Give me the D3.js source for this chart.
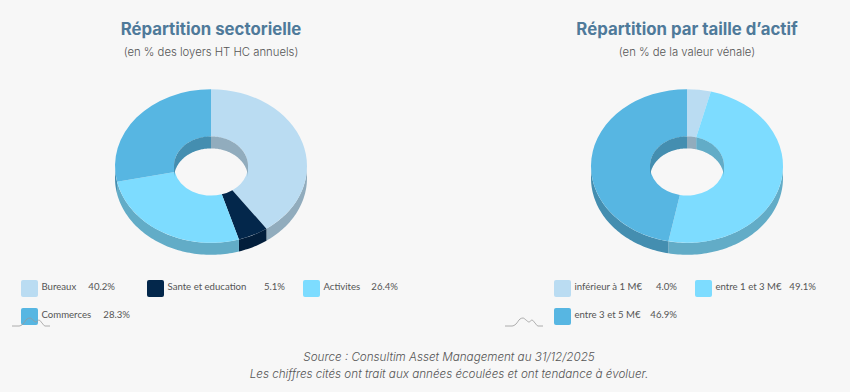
<!DOCTYPE html>
<html>
<head>
<meta charset="utf-8">
<script src="https://cdn.jsdelivr.net/npm/d3@7"></script>
<style>
  html, body { margin: 0; padding: 0; background: #f7f7f7; }
  svg { display: block; }
  text { font-family: Inter, "Open Sans", sans-serif; }
  .title { font-size: 16.8px; font-weight: 700; fill: #4f7a9a; text-anchor: middle; }
  .subtitle { font-size: 11.3px; font-weight: 300; fill: #555; text-anchor: middle; }
  .legend-text { font-family: Lato, sans-serif; font-size: 9.6px; font-weight: 400; fill: #555; dominant-baseline: middle; }
  .footer { font-size: 11.65px; font-weight: 300; font-style: italic; fill: #555; text-anchor: middle; }
</style>
</head>
<body>
<svg id="chart" width="850" height="392"></svg>
<script>
// data
const sectorLabels = ["Bureaux", "Sante et education", "Activites", "Commerces"]
const sectorValues = [40.2, 5.1, 26.4, 28.3]
const sectorColors = ["#badcf2", "#03274b", "#7ddcff", "#57b6e2"]

const sizeLabels = ["inférieur à 1 M€", "entre 1 et 3 M€", "entre 3 et 5 M€"]
const sizeValues = [4.0, 49.1, 46.9]
const sizeColors = ["#badcf2", "#7ddcff", "#57b6e2"]

const footerLines = [
  "Source : Consultim Asset Management au 31/12/2025",
  "Les chiffres cités ont trait aux années écoulées et ont tendance à évoluer."
]

// layout
const rx = 96, squash = 0.8, holeR = 37, depth = 12, cy = 166
const sectorLegend = [
  {x: 21, y: 280, valueEnd: 115},
  {x: 147, y: 280, valueEnd: 285},
  {x: 303, y: 280, valueEnd: 398},
  {x: 21, y: 308, valueEnd: 130}
]
const sizeLegend = [
  {x: 554, y: 280, valueEnd: 677},
  {x: 695, y: 280, valueEnd: 816},
  {x: 554, y: 308, valueEnd: 677}
]
// small grey squiggle sitting under the legend, relative to its left end
const squiggle = [[0, 8], [7, 8], [11, 6], [15, 1], [18, 0], [21, 2], [24, 4], [27, 2], [30, 5], [33, 8], [38, 8]]

const svg = d3.select("#chart")

function ringPoint(r, a, dy) {
  return [r * Math.sin(a), -r * squash * Math.cos(a) + dy]
}

// wall strip between the top edge and the same edge moved down, between two angles
function wallPath(r, a0, a1) {
  const n = Math.max(2, Math.ceil((a1 - a0) * 40))
  const angles = d3.range(n + 1).map(i => a0 + (a1 - a0) * i / n)
  const top = angles.map(a => ringPoint(r, a, 0))
  const bottom = angles.slice().reverse().map(a => ringPoint(r, a, depth))
  return d3.line()(top.concat(bottom)) + "Z"
}

function wallColor(c) {
  const col = d3.rgb(c)
  return d3.rgb(col.r * 0.78, col.g * 0.78, col.b * 0.78).formatHex()
}

function drawDonut(cx, values, colors) {
  const arcs = d3.pie().sort(null)(values)
  const g = svg.append("g").attr("transform", "translate(" + cx + "," + cy + ")")

  // outer wall, only the front half shows
  arcs.forEach((d, i) => {
    const a0 = Math.max(d.startAngle, Math.PI / 2)
    const a1 = Math.min(d.endAngle, 3 * Math.PI / 2)
    if (a1 > a0) g.append("path").attr("d", wallPath(rx, a0, a1)).attr("fill", wallColor(colors[i]))
  })

  // top face
  const arc = d3.arc().innerRadius(holeR).outerRadius(rx)
  g.append("g").attr("transform", "scale(1," + squash + ")")
    .selectAll("path")
    .data(arcs)
    .enter()
    .append("path")
    .attr("d", arc)
    .attr("fill", (d, i) => colors[i])

  // inner wall of the hole, only the back half shows
  arcs.forEach((d, i) => {
    [[0, Math.PI / 2], [3 * Math.PI / 2, 2 * Math.PI]].forEach(range => {
      const a0 = Math.max(d.startAngle, range[0])
      const a1 = Math.min(d.endAngle, range[1])
      if (a1 > a0) g.append("path").attr("d", wallPath(holeR, a0, a1)).attr("fill", wallColor(colors[i]))
    })
  })
}

function drawLegend(labels, values, colors, layout) {
  labels.forEach((label, i) => {
    const pos = layout[i]
    svg.append("rect")
      .attr("x", pos.x).attr("y", pos.y)
      .attr("width", 17).attr("height", 17).attr("rx", 2)
      .attr("fill", colors[i])
    svg.append("text").attr("class", "legend-text")
      .attr("x", pos.x + 20.5).attr("y", pos.y + 7.5)
      .text(label)
    svg.append("text").attr("class", "legend-text")
      .attr("x", pos.valueEnd).attr("y", pos.y + 7.5)
      .attr("text-anchor", "end")
      .text(values[i].toFixed(1) + "%")
  })
}

function drawSquiggle(x, y) {
  svg.append("path")
    .attr("transform", "translate(" + x + "," + y + ")")
    .attr("d", d3.line().curve(d3.curveMonotoneX)(squiggle))
    .attr("fill", "none").attr("stroke", "#999").attr("stroke-width", 0.8)
}

svg.append("text").attr("class", "title").attr("x", 211).attr("y", 34.5).text("Répartition sectorielle")
svg.append("text").attr("class", "subtitle").attr("x", 211).attr("y", 56).text("(en % des loyers HT HC annuels)")
svg.append("text").attr("class", "title").attr("x", 687).attr("y", 34.5).text("Répartition par taille d’actif")
svg.append("text").attr("class", "subtitle").attr("x", 687).attr("y", 56).text("(en % de la valeur vénale)")

drawDonut(211, sectorValues, sectorColors)
drawDonut(687, sizeValues, sizeColors)

drawLegend(sectorLabels, sectorValues, sectorColors, sectorLegend)
drawLegend(sizeLabels, sizeValues, sizeColors, sizeLegend)

drawSquiggle(12, 318)
drawSquiggle(505, 318)

svg.selectAll(".footer")
  .data(footerLines)
  .enter()
  .append("text")
  .attr("class", "footer")
  .attr("x", 449)
  .attr("y", (d, i) => 361 + i * 17)
  .text(d => d)
</script>
</body>
</html>
